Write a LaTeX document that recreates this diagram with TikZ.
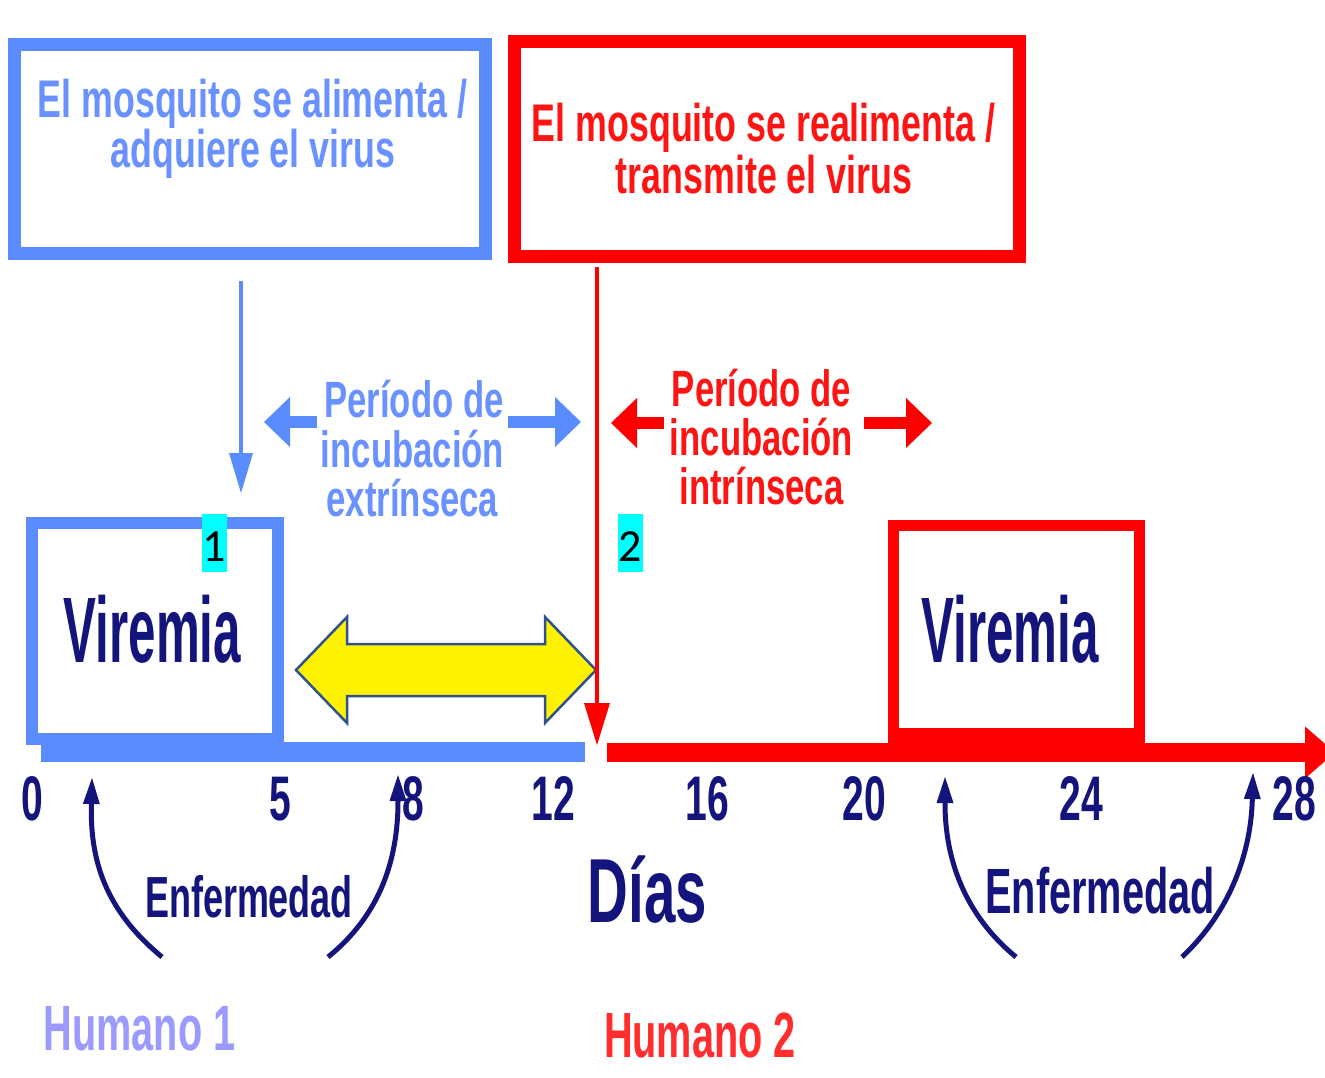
\documentclass[tikz,border=0pt]{standalone}
\usepackage{fontspec}
\setmainfont{Liberation Sans}
\newfontfamily\cnd[FakeStretch=0.62]{Liberation Sans}
\newfontfamily\cndb[FakeStretch=0.675]{Liberation Sans}
\newfontfamily\cndc[FakeStretch=0.68]{Liberation Sans}
\newfontfamily\vfnt[FakeStretch=0.53]{Liberation Sans}
\newfontfamily\calfnt{Carlito}
\usetikzlibrary{arrows.meta}
\definecolor{bbox}{RGB}{90,140,255}
\definecolor{btext}{RGB}{105,145,255}
\definecolor{rbox}{RGB}{255,0,0}
\definecolor{rtext}{RGB}{255,20,20}
\definecolor{navy}{RGB}{20,20,125}
\definecolor{hum1}{RGB}{155,155,255}
\definecolor{hum2}{RGB}{255,45,45}
\definecolor{yout}{RGB}{47,82,143}
\definecolor{cyanlb}{RGB}{0,255,255}
\newcommand\myfs[1]{\fontsize{#1}{#1}\selectfont}
\begin{document}
\begin{tikzpicture}[x=1pt,y=-1pt,
  txt/.style={inner sep=0pt,anchor=base},
  bigbox/.style={draw=#1,line width=13pt,inner sep=0pt},
  cyanlab/.style={fill=cyanlb,inner sep=0pt,minimum width=25pt,minimum height=58pt,
     text height=37pt,text depth=0pt,font=\calfnt\myfs{46}},
  harrow/.style={line width=12pt,-{Triangle[length=26pt,width=50pt,line width=0pt]}},
  enfarrow/.style={navy,line width=5pt,-{Triangle[length=26pt,width=17pt,line width=0pt]}},
  num/.style={txt,text=navy,font=\cnd\bfseries\myfs{63}},
  boxtxt/.style={txt,text=#1,font=\cndb\bfseries\myfs{53}},
  inctxt/.style={txt,text=#1,font=\cndc\bfseries\myfs{51}}]
\useasboundingbox (0,0) rectangle (1325,1078);
\fill[white] (0,0) rectangle (1325,1078);

% top boxes
\node[bigbox=bbox,minimum width=471pt,minimum height=208pt] (box1) at (249.5,149) {};
\node[bigbox=rbox,minimum width=505pt,minimum height=214pt] (box2) at (767,149) {};
\node[boxtxt=btext] (t1a) at (252.5,118) {El mosquito se alimenta /};
\node[boxtxt=btext] (t1b) at (253,168) {adquiere el virus};
\node[boxtxt=rtext] (t2a) at (763.5,141.5) {El mosquito se realimenta /};
\node[boxtxt=rtext] (t2b) at (764,194) {transmite el virus};

% incubation texts
\node[inctxt=btext] (i1a) at (414,417) {Período de};
\node[inctxt=btext] (i1b) at (412.5,467) {incubación};
\node[inctxt=btext] (i1c) at (412.5,516) {extrínseca};
\node[inctxt=rtext] (i2a) at (761.5,406) {Período de};
\node[inctxt=rtext] (i2b) at (761.5,455) {incubación};
\node[inctxt=rtext] (i2c) at (761.5,504) {intrínseca};

% horizontal incubation arrows
\coordinate (bl1) at (317,422); \coordinate (bl2) at (264,422);
\coordinate (br1) at (508,422); \coordinate (br2) at (581,422);
\coordinate (rl1) at (664,423); \coordinate (rl2) at (611,423);
\coordinate (rr1) at (864,423); \coordinate (rr2) at (932,423);
\draw[bbox,harrow] (bl1) -- (bl2);
\draw[bbox,harrow] (br1) -- (br2);
\draw[rbox,harrow] (rl1) -- (rl2);
\draw[rbox,harrow] (rr1) -- (rr2);

% viremia boxes and time axes
\node[draw=bbox,line width=12pt,inner sep=0pt,minimum width=246pt,minimum height=216pt] (vir1) at (154.5,631) {};
\fill[bbox] (41,742) rectangle (585,762);
\node[draw=rbox,line width=11pt,inner sep=0pt,minimum width=246pt,minimum height=220pt] (vir2) at (1016.5,635) {};
\fill[rbox] (888,728) rectangle (1145,762);
\coordinate (ax1) at (607,752.5); \coordinate (ax2) at (1335,752.5);
\draw[rbox,line width=19pt,-{Triangle[length=30pt,width=52pt,line width=0pt]}] (ax1) -- (ax2);
\node[txt,text=navy,font=\vfnt\bfseries\myfs{93}] (v1) at (152.5,662) {Viremia};
\node[txt,text=navy,font=\vfnt\bfseries\myfs{93}] (v2) at (1010,662) {Viremia};

% yellow double arrow
\filldraw[fill=yellow,draw=yout,line width=2.5pt,line join=miter]
  (296,670) -- (347,617) -- (347,644) -- (545,644) -- (545,617) -- (596,670)
  -- (545,723) -- (545,696) -- (347,696) -- (347,723) -- cycle;

% vertical arrows
\coordinate (bv1) at (241,281); \coordinate (bv2) at (241,493);
\draw[bbox,line width=3.5pt,-{Triangle[length=40pt,width=24pt,line width=0pt]}] (bv1) -- (bv2);
\coordinate (rv1) at (597,267); \coordinate (rv2) at (597,745);
\draw[rbox,line width=4.5pt,-{Triangle[length=42pt,width=26pt,line width=0pt]}] (rv1) -- (rv2);

% cyan labels
\node[cyanlab] (n1) at (214.5,543) {1};
\node[cyanlab] (n2) at (630.5,543) {2};

% day numbers
\node[num] (d0) at (32,820) {0};
\node[num] (d5) at (280,820) {5};
\node[num] (d8) at (413,820) {8};
\node[num] (d12) at (553,820) {12};
\node[num] (d16) at (707,820) {16};
\node[num] (d20) at (864,820) {20};
\node[num] (d24) at (1081,820) {24};
\node[num] (d28) at (1294,820) {28};

% Enfermedad arrows
\coordinate (e1a) at (162,957); \coordinate (e1b) at (92,778);
\coordinate (e2a) at (328,957); \coordinate (e2b) at (398,775);
\coordinate (e3a) at (1016,957); \coordinate (e3b) at (945,777);
\coordinate (e4a) at (1182,957); \coordinate (e4b) at (1253,773);
\draw[enfarrow] (e1a) .. controls (105,910) and (90,860) .. (e1b);
\draw[enfarrow] (e2a) .. controls (380,915) and (398,860) .. (e2b);
\draw[enfarrow] (e3a) .. controls (965,915) and (945,860) .. (e3b);
\draw[enfarrow] (e4a) .. controls (1232,910) and (1251,850) .. (e4b);

\node[txt,text=navy,font=\cnd\bfseries\myfs{58}] (enf1) at (249,917) {Enfermedad};
\node[txt,text=navy,font=\cnd\bfseries\myfs{64}] (enf2) at (1100,913) {Enfermedad};
\node[txt,text=navy,font=\cnd\bfseries\myfs{91}] (dias) at (647.5,922) {Días};

\node[txt,text=hum1,font=\cnd\bfseries\myfs{64}] (h1) at (139.5,1050) {Humano 1};
\node[txt,text=hum2,font=\cnd\bfseries\myfs{64}] (h2) at (700,1057) {Humano 2};
\end{tikzpicture}
\end{document}
